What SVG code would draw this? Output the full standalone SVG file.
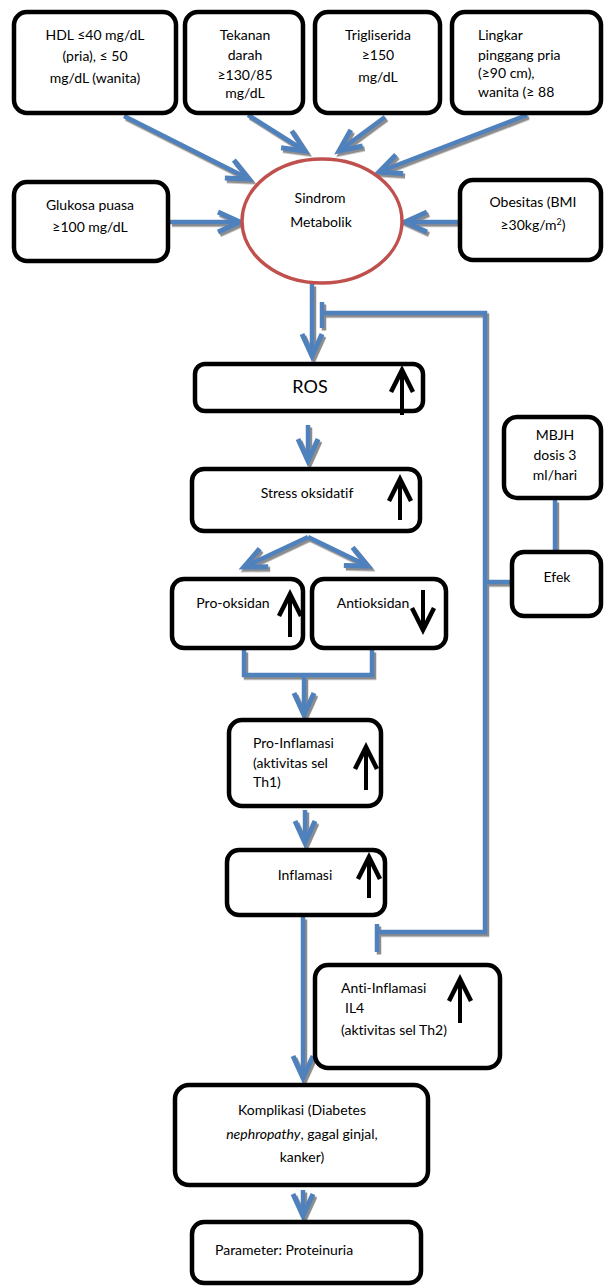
<svg xmlns="http://www.w3.org/2000/svg" width="605" height="1287" viewBox="0 0 605 1287">
<defs>
<style>
.box{fill:#fff;stroke:#000;stroke-width:4.5}
.t{font-family:Lato,"Liberation Sans","DejaVu Sans",sans-serif;font-size:14px;fill:#000;font-variant-ligatures:none}
.big{font-size:18px}
.c{text-anchor:middle}
.conn{fill:none;stroke:#4F81BD;stroke-width:4.5}
.ar{marker-end:url(#hb)}
.up{fill:none;stroke:#000;stroke-width:4;marker-end:url(#hk)}
</style>
<marker id="hb" markerUnits="userSpaceOnUse" orient="auto" markerWidth="40" markerHeight="40" refX="0" refY="0" viewBox="-30 -15 40 30" overflow="visible">
<path d="M-22,-10 L0,0 L-22,10" fill="none" stroke="#4F81BD" stroke-width="5" stroke-linejoin="miter"/>
</marker>
<marker id="hk" markerUnits="userSpaceOnUse" orient="auto" markerWidth="40" markerHeight="40" refX="0" refY="0" viewBox="-30 -15 40 30" overflow="visible">
<path d="M-22,-11 L0,0 L-22,11" fill="none" stroke="#000" stroke-width="4.5" stroke-linejoin="miter"/>
</marker>
<filter id="sh" x="-20%" y="-20%" width="140%" height="140%">
<feDropShadow dx="2" dy="2.5" stdDeviation="0.6" flood-color="#8c8c8c" flood-opacity="1"/>
</filter>
</defs>
<rect width="605" height="1287" fill="#fff"/>

<g id="connectors" filter="url(#sh)">
<path class="conn ar" d="M124,116 L249,179"/>
<path class="conn ar" d="M248,115 L305,151"/>
<path class="conn ar" d="M385,117 L339,151"/>
<path class="conn ar" d="M527,115 L379,172"/>
<path class="conn ar" d="M170,222 L240,222"/>
<path class="conn ar" d="M458,222 L405,222"/>
<path class="conn ar" d="M312,284 L312,356"/>
<path class="conn" d="M322,302 L322,328 M322,313 L485,313 L485,932 L377,932 M377,924 L377,952"/>
<path class="conn" d="M485,582 L512,582"/>
<path class="conn" d="M555,500 L555,550"/>
<path class="conn ar" d="M308,425 L308,461"/>
<path class="conn ar" d="M308,537 L244,567"/>
<path class="conn ar" d="M308,537 L368,566"/>
<path class="conn" d="M244,650 L244,675 L372,675 L372,650"/>
<path class="conn ar" d="M304,675 L304,715"/>
<path class="conn ar" d="M305,810 L305,843"/>
<path class="conn ar" d="M303,917 L303,1078"/>
<path class="conn ar" d="M303,1190 L303,1216"/>
</g>

<g id="hdl">
<rect class="box" x="14" y="12" width="162" height="101" rx="13"/>
<text class="t c" x="95" y="40">HDL ≤40 mg/dL</text>
<text class="t c" x="95" y="61">(pria), ≤ 50</text>
<text class="t c" x="95" y="83">mg/dL (wanita)</text>
</g>
<g id="tekanan">
<rect class="box" x="185" y="12" width="118" height="101" rx="13"/>
<text class="t c" x="245" y="40">Tekanan</text>
<text class="t c" x="245" y="60">darah</text>
<text class="t c" x="245" y="80">≥130/85</text>
<text class="t c" x="245" y="98">mg/dL</text>
</g>
<g id="trigliserida">
<rect class="box" x="315" y="12" width="125" height="101" rx="13"/>
<text class="t c" x="378" y="40">Trigliserida</text>
<text class="t c" x="378" y="60">≥150</text>
<text class="t c" x="378" y="82">mg/dL</text>
</g>
<g id="lingkar">
<rect class="box" x="452" y="12" width="149" height="101" rx="13"/>
<text class="t" x="478" y="40">Lingkar</text>
<text class="t" x="478" y="60">pinggang pria</text>
<text class="t" x="478" y="78">(≥90 cm),</text>
<text class="t" x="478" y="97">wanita (≥ 88</text>
</g>
<g id="glukosa">
<rect class="box" x="14" y="182" width="154" height="79" rx="13"/>
<text class="t c" x="90" y="210">Glukosa puasa</text>
<text class="t c" x="90" y="232">≥100 mg/dL</text>
</g>
<g id="sindrom">
<ellipse cx="322" cy="221" rx="80" ry="62" fill="#fff" stroke="#C0504D" stroke-width="3.5"/>
<text class="t c" x="320" y="203">Sindrom</text>
<text class="t c" x="321" y="227">Metabolik</text>
</g>
<g id="obesitas">
<rect class="box" x="460" y="180" width="141" height="80" rx="13"/>
<text class="t c" x="533" y="207">Obesitas (BMI</text>
<text class="t c" x="533" y="230">≥30kg/m<tspan font-size="9" dy="-5">2</tspan><tspan dy="5">)</tspan></text>
</g>
<g id="ros">
<rect class="box" x="195" y="364" width="228" height="47" rx="10"/>
<text class="t c big" x="310" y="393">ROS</text>
<path class="up" d="M402,415 L402,370"/>
</g>
<g id="stress">
<rect class="box" x="192" y="469" width="228" height="62" rx="12"/>
<text class="t c" x="307" y="498">Stress oksidatif</text>
<path class="up" d="M400,520 L400,479"/>
</g>
<g id="prooksidan">
<rect class="box" x="172" y="579" width="131" height="69" rx="12"/>
<text class="t c" x="233" y="608">Pro-oksidan</text>
<path class="up" d="M290,637 L290,594"/>
</g>
<g id="antioksidan">
<rect class="box" x="312" y="579" width="134" height="69" rx="12"/>
<text class="t c" x="373" y="608">Antioksidan</text>
<path class="up" d="M423,590 L423,630"/>
</g>
<g id="mbjh">
<rect class="box" x="504" y="417" width="97" height="81" rx="13"/>
<text class="t c" x="555" y="440">MBJH</text>
<text class="t c" x="555" y="460">dosis 3</text>
<text class="t c" x="555" y="480">ml/hari</text>
</g>
<g id="efek">
<rect class="box" x="512" y="552" width="89" height="64" rx="12"/>
<text class="t c" x="557" y="582">Efek</text>
</g>
<g id="proinflamasi">
<rect class="box" x="229" y="720" width="152" height="86" rx="13"/>
<text class="t" x="253" y="748">Pro-Inflamasi</text>
<text class="t" x="253" y="768">(aktivitas sel</text>
<text class="t" x="253" y="787">Th1)</text>
<path class="up" d="M366,790 L366,747"/>
</g>
<g id="inflamasi">
<rect class="box" x="227" y="850" width="158" height="65" rx="12"/>
<text class="t c" x="305" y="880">Inflamasi</text>
<path class="up" d="M369,898 L369,857"/>
</g>
<g id="antiinflamasi">
<rect class="box" x="315" y="965" width="185" height="103" rx="13"/>
<text class="t" x="341" y="993">Anti-Inflamasi</text>
<text class="t" x="345" y="1013">IL4</text>
<text class="t" x="341" y="1035">(aktivitas sel Th2)</text>
<path class="up" d="M460,1023 L460,979"/>
</g>
<g id="komplikasi">
<rect class="box" x="175" y="1085" width="253" height="100" rx="14"/>
<text class="t c" x="302" y="1115">Komplikasi (Diabetes</text>
<text class="t c" x="302" y="1139"><tspan font-style="italic">nephropathy</tspan>, gagal ginjal,</text>
<text class="t c" x="302" y="1162">kanker)</text>
</g>
<g id="parameter">
<rect class="box" x="192" y="1222" width="229" height="61" rx="12"/>
<text class="t" x="215" y="1255">Parameter: Proteinuria</text>
</g>
</svg>
